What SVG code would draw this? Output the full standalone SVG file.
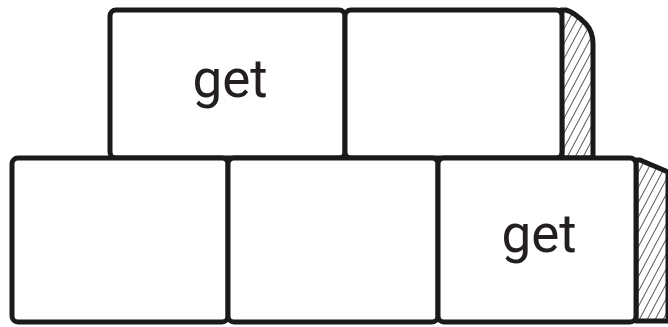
<svg xmlns="http://www.w3.org/2000/svg" width="668" height="327" viewBox="0 0 668 327">
<defs>
<pattern id="hatch" patternUnits="userSpaceOnUse" width="7" height="7" patternTransform="rotate(28)">
<line x1="0" y1="0" x2="0" y2="7" stroke="#222" stroke-width="1.5"/>
</pattern>
<style>
.box{fill:#fff;stroke:#1a1a1a;stroke-width:5;stroke-linejoin:round}
.side{fill:url(#hatch);stroke:#1a1a1a;stroke-width:5;stroke-linejoin:round}
.lbl{font-family:Roboto,"Liberation Sans",sans-serif;font-size:53px;fill:#231f20;text-anchor:middle}
</style>
</defs>
<rect width="668" height="327" fill="#fff"/>
<g id="top-side"><path class="side" d="M561,10 L566,10 Q574,12 586,24 Q593,32 593,44 L593,158 L562,158 Z"/></g>
<g id="top-1"><rect class="box" x="110" y="10" width="235" height="148" rx="6"/><text class="lbl" x="230" y="97">get</text></g>
<g id="top-2"><rect class="box" x="345" y="10" width="217" height="148" rx="6"/></g>
<g id="bottom-side"><path class="side" d="M636,160 L640,160 L668,172 L668,321 L636,321 Z"/></g>
<g id="bottom-1"><rect class="box" x="12" y="158" width="216" height="164" rx="6"/></g>
<g id="bottom-2"><rect class="box" x="228" y="158" width="210" height="164" rx="6"/></g>
<g id="bottom-3"><rect class="box" x="438" y="158" width="198" height="164" rx="6"/><text class="lbl" x="539" y="252">get</text></g>
<g id="connectors"></g>
</svg>
